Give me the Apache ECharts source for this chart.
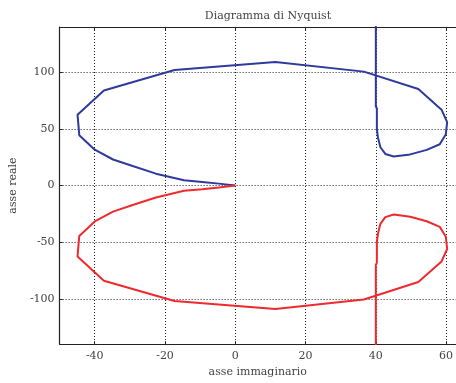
<!DOCTYPE html>
<html>
<head>
<meta charset="utf-8">
<script src="https://cdn.jsdelivr.net/npm/echarts@6/dist/echarts.min.js"></script>
<style>
  html, body { margin: 0; padding: 0; background: #fff; }
  #chart { width: 456px; height: 383px; }
</style>
</head>
<body>
<div id="chart"></div>
<script>
  // tick positions
  var xTicks = [-40, -20, 0, 20, 40, 60];
  var yTicks = [-100, -50, 0, 50, 100];

  // ramo per omega > 0 (blu)
  var blueX = [40, 40, 40.3, 40.3, 40.6, 41.3, 42.7, 45.1, 49.8, 54.5, 58.2, 59.9, 60.3, 58.7, 52.1, 36.6, 11.4, -17.3, -37.4, -44.9, -44.4, -40, -34.8, -29.2, -22.6, -14.6, -9.4, -4.7, 0];
  var blueY = [160, 70, 68, 50, 42.5, 33.8, 27.9, 25.6, 27.5, 31.5, 36.5, 45, 56, 67, 85.2, 100.6, 109, 102, 84, 62.6, 44.5, 31.7, 23, 17.2, 10.5, 4.6, 3.2, 1.7, 0];

  // ramo per omega < 0 (rosso)
  var redX = [0, -4.7, -9.4, -14.6, -22.6, -29.2, -34.8, -40, -44.4, -44.9, -37.4, -17.3, 11.4, 36.6, 52.1, 58.7, 60.3, 59.9, 58.2, 54.5, 49.8, 45.1, 42.7, 41.3, 40.6, 40.3, 40.3, 40, 40];
  var redY = [0, -1.7, -3.2, -4.6, -10.5, -17.2, -23, -31.7, -44.5, -62.6, -84, -102, -109, -100.6, -85.2, -67, -56, -45, -36.5, -31.5, -27.5, -25.6, -27.9, -33.8, -42.5, -50, -68, -70, -160];

  function pairs(xs, ys) {
    var out = [];
    for (var i = 0; i < xs.length; i++) out.push([xs[i], ys[i]]);
    return out;
  }

  var font = 'DejaVu Serif';
  var txt = '#444';

  var myChart = echarts.init(document.getElementById('chart'));

  var option = {
    animation: false,
    title: {
      text: 'Diagramma di Nyquist',
      left: 263, top: 6, textAlign: 'center',
      textStyle: { fontFamily: font, fontSize: 11, fontWeight: 'normal', color: txt }
    },
    grid: {
      left: 56, top: 27, bottom: 36, right: 0
    },
    xAxis: [{
      type: 'value', min: -50, max: 62.8,
      name: 'asse immaginario', nameLocation: 'middle', nameGap: 22,
      nameTextStyle: { fontFamily: font, fontSize: 11, color: txt },
      axisLine: { show: true, onZero: false, lineStyle: { color: '#222', width: 1.2 } },
      axisTick: { show: true, inside: true, length: 3, customValues: xTicks, lineStyle: { color: '#222' } },
      axisLabel: { customValues: xTicks, fontFamily: font, fontSize: 11, color: txt, margin: 7 },
      splitLine: { show: true, lineStyle: { color: '#222', type: [1, 2], width: 1 } }
    }, {
      type: 'value', min: -50, max: 62.8, position: 'top',
      axisLine: { show: true, onZero: false, lineStyle: { color: '#222', width: 1.2 } },
      axisTick: { show: true, inside: true, length: 3, customValues: xTicks, lineStyle: { color: '#222' } },
      axisLabel: { show: false },
      splitLine: { show: false }
    }],
    yAxis: {
      type: 'value', min: -140, max: 140,
      name: 'asse reale', nameLocation: 'middle', nameGap: 36,
      nameTextStyle: { fontFamily: font, fontSize: 11, color: txt },
      axisLine: { show: true, onZero: false, lineStyle: { color: '#222', width: 1.2 } },
      axisTick: { show: true, inside: true, length: 3, customValues: yTicks, lineStyle: { color: '#222' } },
      axisLabel: { customValues: yTicks, fontFamily: font, fontSize: 11, color: txt, margin: 5 },
      splitLine: { show: true, lineStyle: { color: '#222', type: [1, 2], width: 1 } }
    },
    series: [{
      name: 'omega > 0', type: 'line', xAxisIndex: 0,
      data: pairs(blueX, blueY),
      showSymbol: false, clip: true,
      lineStyle: { color: '#2f3a9c', width: 2 }
    }, {
      name: 'omega < 0', type: 'line', xAxisIndex: 0,
      data: pairs(redX, redY),
      showSymbol: false, clip: true,
      lineStyle: { color: '#ee2a2e', width: 2 }
    }]
  };

  myChart.setOption(option);
</script>
</body>
</html>
